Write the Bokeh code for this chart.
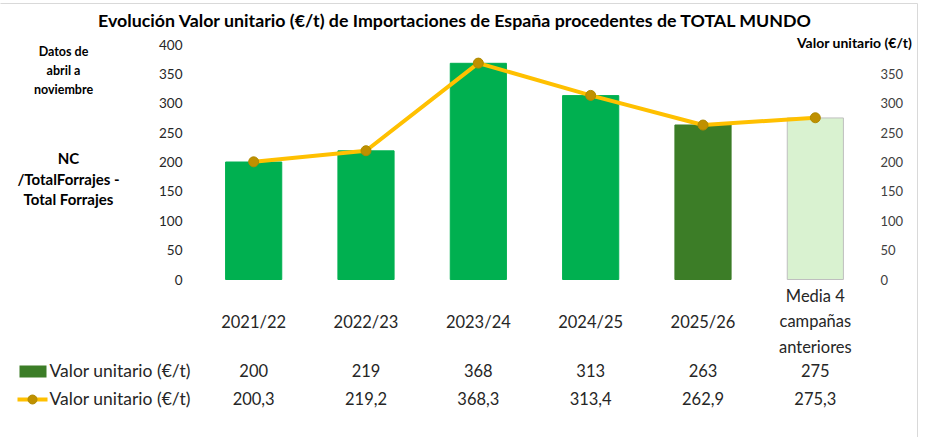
from bokeh.plotting import figure
from bokeh.models import Range1d
from bokeh.core.properties import value
from bokeh.embed import file_html
from bokeh.resources import INLINE

# ---------------- data ----------------
categories = ["2021/22", "2022/23", "2023/24", "2024/25", "2025/26", "Media 4 campañas anteriores"]
cat_labels = ["2021/22", "2022/23", "2023/24", "2024/25", "2025/26", "Media 4\ncampañas\nanteriores"]
bar_values = [200, 219, 368, 313, 263, 275]
line_values = [200.3, 219.2, 368.3, 313.4, 262.9, 275.3]
left_ticks = [0, 50, 100, 150, 200, 250, 300, 350, 400]
right_ticks = [0, 50, 100, 150, 200, 250, 300, 350]
title_text = "Evolución Valor unitario (€/t) de Importaciones de España procedentes de TOTAL MUNDO"
series_name = "Valor unitario (€/t)"
note_top = ["Datos de", "abril a", "noviembre"]
note_mid = ["NC", "/TotalForrajes -", "Total Forrajes"]

# ---------------- styles ----------------
bar_colors = ["#00B050", "#00B050", "#00B050", "#00B050", "#3C7D27", "#D9F2D0"]
bar_lines = ["#00B050", "#00B050", "#00B050", "#00B050", "#3C7D27", "#BFBFBF"]
FONT = value("Lato")
TXT = "#262626"

W, H = 922, 437
# pixel geometry of the plotting area on the canvas
FR_L, FR_R, FR_T, FR_B = 197, 871, 44, 279
YMAX = 400
N = len(categories)
UX = (FR_R - FR_L) / N          # px per category
UY = (FR_B - FR_T) / YMAX       # px per value unit
C0 = FR_L + UX / 2              # px of first category centre


def dx(px):
    return (px - C0) / UX


def dy(py):
    return (FR_B - py) / UY


p = figure(width=W, height=H, x_range=Range1d(dx(0), dx(W)), y_range=Range1d(dy(H), dy(0)),
           output_backend="svg", toolbar_location=None,
           min_border=0, min_border_left=0, min_border_right=0, min_border_top=0, min_border_bottom=0)
p.outline_line_color = None
p.background_fill_color = "white"
p.border_fill_color = "white"
p.grid.visible = False
p.axis.visible = False

xs = list(range(N))

# outer border
p.line(x=[dx(-5), dx(917), dx(917)], y=[dy(3), dy(3), dy(H + 5)], line_color="#D9D9D9", line_width=1)

# bars and line
p.vbar(x=xs, top=bar_values, bottom=0, width=0.5, fill_color=bar_colors, line_color=bar_lines, line_width=1)
p.line(x=xs, y=line_values, line_color="#FFC000", line_width=4)
p.scatter(x=xs, y=line_values, size=10, fill_color="#BF9000", line_color="#B08A00", line_width=1)

# left axis labels
p.text(x=[dx(182)] * len(left_ticks), y=left_ticks, text=[str(t) for t in left_ticks],
       text_align="right", text_baseline="middle", text_font=FONT, text_font_size="13.5px",
       text_color="#262626")
# right axis labels
p.text(x=[dx(880)] * len(right_ticks), y=right_ticks, text=[str(t) for t in right_ticks],
       text_align="left", text_baseline="middle", text_font=FONT, text_font_size="13px",
       text_color="#404040")

# title
p.text(x=[dx(455)], y=[dy(19)], text=[title_text], text_align="center", text_baseline="middle",
       text_font=FONT, text_font_style="bold", text_font_size="17.8px", text_color="black")
# right axis title
p.text(x=[dx(854)], y=[dy(42)], text=[series_name], text_align="center", text_baseline="middle",
       text_font=FONT, text_font_style="bold", text_font_size="14px", text_color="black")

# left notes
p.text(x=[dx(63)] * 3, y=[dy(51), dy(70), dy(89)], text=note_top, text_align="center",
       text_baseline="middle", text_font=FONT, text_font_style="bold", text_font_size="12.5px",
       text_color="black")
p.text(x=[dx(68)] * 3, y=[dy(157), dy(178), dy(198)], text=note_mid, text_align="center",
       text_baseline="middle", text_font=FONT, text_font_style="bold", text_font_size="15px",
       text_color="black")

# category labels (data-table header)
p.text(x=xs, y=[dy(321)] * N, text=cat_labels, text_align="center", text_baseline="middle",
       text_font=FONT, text_font_size="16.5px", text_color=TXT, text_line_height=1.28)

# data table rows
p.text(x=xs, y=[dy(370)] * N, text=[str(round(v)) for v in bar_values], text_align="center",
       text_baseline="middle", text_font=FONT, text_font_size="16.5px", text_color=TXT)
p.text(x=xs, y=[dy(398)] * N, text=[f"{v:.1f}".replace(".", ",") for v in line_values],
       text_align="center", text_baseline="middle", text_font=FONT, text_font_size="16.5px", text_color=TXT)

# row legend keys
p.quad(left=[dx(19)], right=[dx(46)], top=[dy(365)], bottom=[dy(377)], fill_color="#3C7D27", line_color=None)
p.line(x=[dx(17), dx(47)], y=[dy(399), dy(399)], line_color="#FFC000", line_width=4)
p.scatter(x=[dx(32)], y=[dy(399)], size=9, fill_color="#BF9000", line_color="#B08A00")
p.text(x=[dx(49)] * 2, y=[dy(370), dy(398)], text=[series_name] * 2, text_align="left",
       text_baseline="middle", text_font=FONT, text_font_size="17.5px", text_color=TXT)

open("out.html", "w").write(file_html(p, INLINE))
